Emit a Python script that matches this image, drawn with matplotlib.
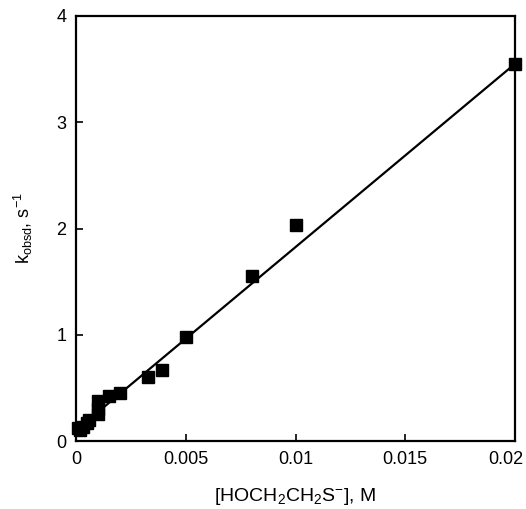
import matplotlib
matplotlib.use("Agg")
import matplotlib.pyplot as plt
import matplotlib.transforms as mtrans
import numpy as np

plt.rcParams["font.family"] = ["Liberation Sans", "DejaVu Sans"]
plt.rcParams["mathtext.fontset"] = "custom"
plt.rcParams["mathtext.rm"] = "Liberation Sans"
plt.rcParams["mathtext.it"] = "Liberation Sans"

# thiolate concentration (M) vs observed rate constant (s^-1)
conc = [0.0001, 0.0002, 0.0003, 0.0005, 0.0006, 0.001, 0.001, 0.001,
        0.0015, 0.002, 0.0033, 0.0039, 0.005, 0.008, 0.01, 0.02]
kobsd = [0.12, 0.10, 0.13, 0.17, 0.20, 0.25, 0.30, 0.38,
         0.42, 0.45, 0.60, 0.67, 0.98, 1.55, 2.03, 3.55]

# linear fit line
fit_x = [0.0, 0.02]
fit_intercept = 0.10
fit_slope = 172.5

fig = plt.figure(figsize=(5.26, 5.09), dpi=100)
ax = fig.add_axes([76/526, 1 - 441/509, 439/526, 425/509])

fx = np.array(fit_x)
ax.plot(fx, fit_intercept + fit_slope*fx, color="black", lw=1.6, zorder=2)
ax.plot(conc, kobsd, "s", color="black", ms=9, zorder=3, clip_on=False)

ax.set_xlim(0, 0.02)
ax.set_ylim(0, 4)
ax.set_xticks([0, 0.005, 0.01, 0.015, 0.02])
ax.set_xticklabels(["0", "0.005", "0.01", "0.015", "0.02"])
ax.set_yticks([0, 1, 2, 3, 4])
ax.tick_params(direction="in", length=5, width=1.2, labelsize=13, pad=7)
for s in ax.spines.values():
    s.set_linewidth(1.6)

# last x label is pulled in so it stays inside the figure
last = ax.get_xticklabels()[-1]
last.set_transform(last.get_transform() +
                   mtrans.ScaledTranslation(-9/100, 0, fig.dpi_scale_trans))

ax.set_xlabel(r"[HOCH$_2$CH$_2$S$^{-}$], M", fontsize=14, labelpad=13)
ax.set_ylabel(r"k$_{\mathrm{obsd}}$, s$^{-1}$", fontsize=13, labelpad=15)

fig.savefig("out.png", dpi=100)
